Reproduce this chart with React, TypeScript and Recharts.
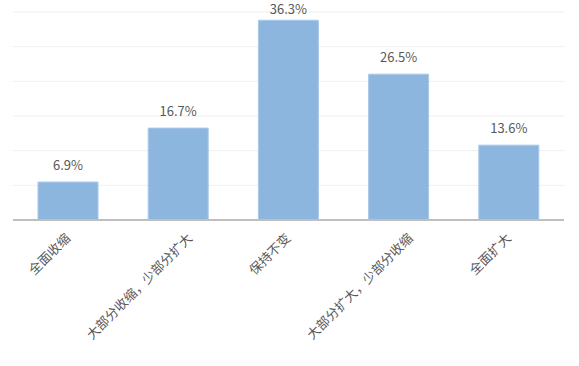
import { BarChart, Bar, XAxis, YAxis, CartesianGrid, LabelList } from "recharts"

const categories: string[] = ["全面收缩", "大部分收缩，少部分扩大", "保持不变", "大部分扩大，少部分收缩", "全面扩大"]
const shares: number[] = [6.9, 16.7, 36.3, 26.5, 13.6]
const yTicks: number[] = [0, 6.3, 12.6, 18.9, 25.2, 31.5, 37.8]

const data = categories.map((name, i) => ({ name, value: shares[i] }))

const FONT = "'Noto Sans CJK SC', 'Noto Sans', sans-serif"

// longer labels sit a bit further right in the original
const RotatedTick = (props: any) => {
  const { x, y, payload } = props
  const len = String(payload.value).length
  const dx = 3 + ((len - 4) * 12) / 7
  return (
    <g transform={`translate(${x + dx},${y + 11})`}>
      <text
        x={0}
        y={0}
        textAnchor="end"
        transform="rotate(-45)"
        fill="#595959"
        fontSize={13}
        fontFamily={FONT}
      >
        {payload.value}
      </text>
    </g>
  )
}

const ValueLabel = (props: any) => {
  const { x, y, width, value } = props
  const baseY = Math.max(y - 12, 14)
  return (
    <text
      x={x + width / 2}
      y={baseY}
      textAnchor="middle"
      fill="#595959"
      fontSize={13}
      fontFamily={FONT}
    >
      {`${value}%`}
    </text>
  )
}

export default function App() {
  return (
    <div style={{ width: 579, height: 366, background: "#fff" }}>
      <style>{"body{margin:0}"}</style>
      <BarChart
        width={579}
        height={366}
        data={data}
        margin={{ top: 12, right: 15, left: 13, bottom: 0 }}
      >
        <CartesianGrid vertical={false} stroke="#efefef" />
        <YAxis hide domain={[0, 37.8]} ticks={yTicks} />
        <XAxis
          dataKey="name"
          height={146}
          interval={0}
          tickLine={false}
          axisLine={{ stroke: "#bfbfbf", strokeWidth: 2 }}
          tick={<RotatedTick />}
        />
        <Bar dataKey="value" fill="#8db6df" stroke="#a9c8e8" barSize={60} isAnimationActive={false}>
          <LabelList dataKey="value" content={<ValueLabel />} />
        </Bar>
      </BarChart>
    </div>
  )
}
